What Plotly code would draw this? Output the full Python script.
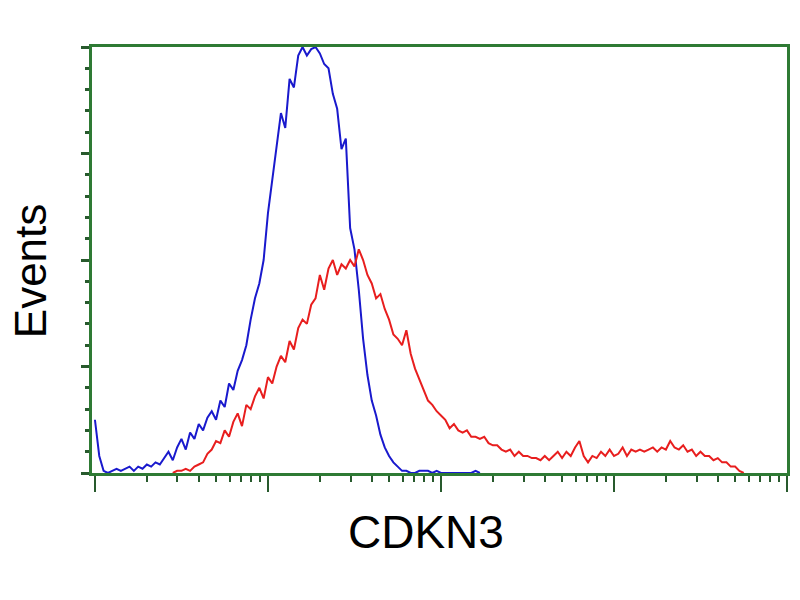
import plotly.graph_objects as go

# Flow cytometry histogram: 160 channels spanning 4 log decades (40 channels / decade)
CHANNELS_PER_DECADE = 40
channels = list(range(161))
intensity = [10 ** (c / CHANNELS_PER_DECADE) for c in channels]

N = None  # no line drawn in this bin (hidden behind the axis)

# Isotype control (blue)
blue_events = [
    25, 8, 1, 0, 1, 2, 1, 2, 3, 1,
    3, 2, 4, 3, 5, 4, 7, 10, 6, 12,
    16, 11, 19, 16, 23, 20, 26, 29, 25, 34,
    31, 42, 39, 48, 53, 60, 72, 82, 89, 100,
    122, 138, 152, 169, 162, 185, 181, 196, 200, 196,
    199, 200, 197, 192, 190, 178, 171, 152, 157, 115,
    105, 86, 63, 46, 34, 27, 18, 12, 8, 5,
    3, 1, 1, 0, 0, 1, 1, 1, 0, 1,
    0, 0, 0, 0, 0, 0, 0, 0, 1, 0,
    N, N, N, N, N, N, N, N, N, N,
    N, N, N, N, N, N, N, N, N, N,
    N, N, N, N, N, N, N, N, N, N,
    N, N, N, N, N, N, N, N, N, N,
    N, N, N, N, N, N, N, N, N, N,
    N, N, N, N, N, N, N, N, N, N,
    N, N, N, N, N, N, N, N, N, N,
    N,
]

# CDKN3 stained (red)
red_events = [
    N, N, N, N, N, N, N, N, N, N,
    N, N, N, N, N, N, N, N, 0, 1,
    1, 2, 1, 3, 4, 5, 9, 11, 15, 14,
    20, 17, 24, 28, 22, 32, 30, 36, 40, 35,
    45, 42, 50, 55, 52, 62, 58, 68, 72, 70,
    79, 82, 93, 86, 96, 100, 93, 98, 96, 100,
    97, 105, 100, 93, 89, 82, 84, 77, 72, 65,
    63, 60, 67, 56, 49, 44, 39, 34, 32, 29,
    27, 25, 21, 23, 20, 19, 20, 17, 17, 16,
    17, 14, 13, 13, 11, 10, 11, 8, 10, 8,
    8, 7, 7, 6, 8, 6, 8, 10, 7, 10,
    8, 12, 15, 8, 5, 8, 7, 10, 8, 11,
    8, 9, 12, 8, 11, 10, 11, 10, 11, 12,
    10, 12, 11, 15, 12, 11, 13, 10, 11, 8,
    10, 8, 8, 6, 7, 5, 5, 3, 3, 1,
    0, N, N, N, N, N, N, N, N, N,
    N,
]

x_title = "CDKN3"
y_title = "Events"

GREEN = "rgb(46,122,52)"
TICK = "rgb(40,90,45)"

fig = go.Figure()
fig.add_trace(go.Scatter(x=intensity, y=blue_events, mode="lines",
                         line=dict(color="rgb(25,25,205)", width=2),
                         showlegend=False, hoverinfo="skip"))
fig.add_trace(go.Scatter(x=intensity, y=red_events, mode="lines",
                         line=dict(color="rgb(232,30,30)", width=2),
                         showlegend=False, hoverinfo="skip"))

fig.update_layout(
    width=792, height=592,
    margin=dict(l=84, r=10, t=39, b=127),
    paper_bgcolor="white", plot_bgcolor="white",
    font=dict(family="Liberation Sans, Arial, sans-serif", color="black"),
    xaxis=dict(
        type="log", range=[-0.017, 4.0],
        dtick=1, tick0=0,
        showticklabels=False, showgrid=False, zeroline=False,
        showline=True, mirror=True, linecolor=GREEN, linewidth=2.5,
        ticks="outside", ticklen=16, tickwidth=2, tickcolor=TICK,
        minor=dict(ticks="outside", ticklen=6, tickwidth=2, tickcolor=TICK, showgrid=False),
    ),
    yaxis=dict(
        range=[0, 200], dtick=50, tick0=0,
        showticklabels=False, showgrid=False, zeroline=False,
        showline=True, mirror=True, linecolor=GREEN, linewidth=2.5,
        ticks="outside", ticklen=8, tickwidth=2.5, tickcolor=TICK,
        minor=dict(dtick=10, ticks="outside", ticklen=4, tickwidth=2.5, tickcolor=TICK, showgrid=False),
    ),
    annotations=[
        dict(text=x_title, xref="paper", yref="paper", x=0.481, y=-0.139,
             xanchor="center", yanchor="middle", showarrow=False,
             font=dict(size=46, color="black")),
        dict(text=y_title, xref="paper", yref="paper", x=-0.089, y=0.474,
             xanchor="center", yanchor="middle", showarrow=False, textangle=-90,
             font=dict(size=44, color="black")),
    ],
)

fig.write_html("out.html")
